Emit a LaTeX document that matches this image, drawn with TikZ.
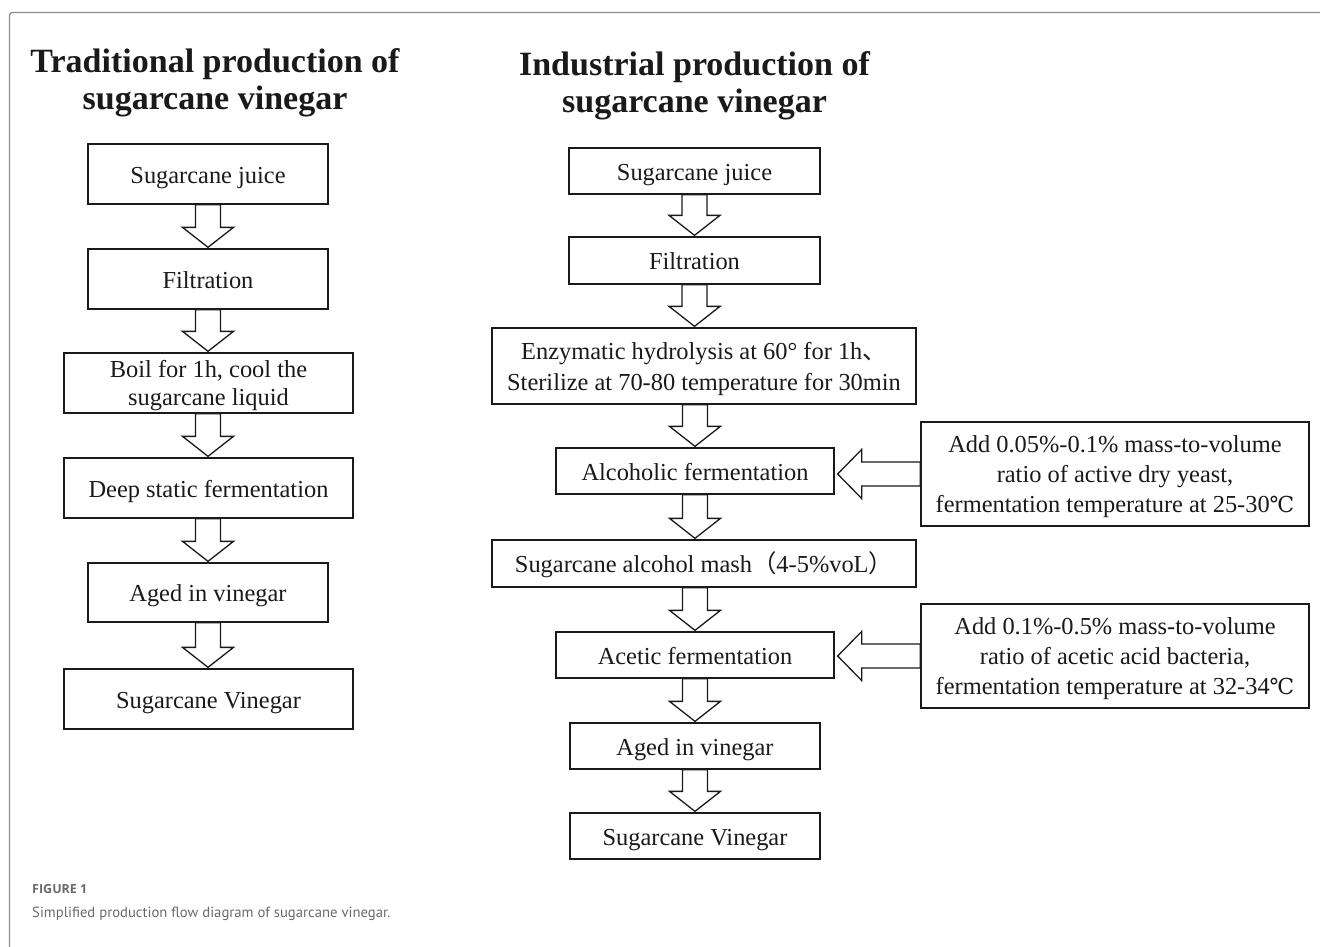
\documentclass[tikz,border=0pt]{standalone}
\usepackage{fontspec}
\setmainfont{Liberation Serif}
\newfontfamily\cjk{Noto Sans CJK SC}
\newfontfamily\degfont{DejaVu Serif}
\newfontfamily\capfont{Open Sans}
\newfontfamily\captextfont{PT Sans}
\usetikzlibrary{calc}
\definecolor{framegray}{HTML}{8C8C8C}
\definecolor{capgray}{HTML}{6A6A6A}
\definecolor{ink}{HTML}{1A1A1A}
\newcommand\flowarrow[3]{%
  \path let \p1=(#1.south), \p2=(#2.north), \p3=(#3.center) in
    [arrowshape] (\x3-12.5pt,\y1) -- (\x3+12.5pt,\y1) -- (\x3+12.5pt,\y2+21pt)
    -- (\x3+25.5pt,\y2+21pt) -- (\x3,\y2+1pt) -- (\x3-25.5pt,\y2+21pt)
    -- (\x3-12.5pt,\y2+21pt) -- cycle;}
\newcommand\sidearrow[2]{%
  \path let \p1=(#1.west), \p2=(#2.east) in
    [arrowshape] (\x1,\y1+12pt) -- (\x2+27pt,\y1+12pt) -- (\x2+27pt,\y1+24.5pt)
    -- (\x2+3pt,\y1) -- (\x2+27pt,\y1-24.5pt) -- (\x2+27pt,\y1-12pt)
    -- (\x1,\y1-12pt) -- cycle;}
\newcommand\topstrut[1]{\rule{0pt}{#1}}
\newcommand\degC{{\degfont\fontsize{22}{29.5}\selectfont ℃}}
\begin{document}
\begin{tikzpicture}[x=1pt,y=-1pt,
  box/.style={draw=ink, line width=1.3pt, fill=white, inner sep=0pt, align=center,
    text=ink, font=\fontsize{24.4}{29.5}\selectfont},
  onebox/.style={box, text height=18pt, text depth=0pt},
  arrowshape/.style={draw=ink, line width=1.3pt, fill=white, line join=miter},
  title/.style={align=center, inner sep=0pt, anchor=north, text=ink,
    font=\fontsize{34}{37.5}\selectfont\bfseries}]
\fill[white] (0,0) rectangle (1320,947);
\useasboundingbox (0,0) rectangle (1320,947);
\draw[framegray, line width=1.3pt, rounded corners=3pt] (9.5,960) -- (9.5,12.5) -- (1335,12.5);

% titles
\node[title] (t1) at (215,48) {Traditional production of\\sugarcane vinegar};
\node[title] (t2) at (694.5,51) {Industrial production of\\sugarcane vinegar};

% left column
\node[onebox, minimum width=240, minimum height=60] (lj) at (208,174) {Sugarcane juice};
\node[onebox, minimum width=240, minimum height=60] (lf) at (208,279) {Filtration};
\node[box, minimum width=289, minimum height=60, font=\fontsize{24.4}{28}\selectfont] (lb) at (208.5,383) {\topstrut{21.3pt}Boil for 1h, cool the\\sugarcane liquid};
\node[onebox, minimum width=289, minimum height=60] (ld) at (208.5,488) {Deep static fermentation};
\node[onebox, minimum width=240, minimum height=59] (la) at (208,592.5) {Aged in vinegar};
\node[onebox, minimum width=289, minimum height=60] (lv) at (208.5,699) {Sugarcane Vinegar};

\flowarrow{lj}{lf}{lf}
\flowarrow{lf}{lb}{lf}
\flowarrow{lb}{ld}{lf}
\flowarrow{ld}{la}{lf}
\flowarrow{la}{lv}{lf}

% right column
\node[onebox, minimum width=251, minimum height=46] (rj) at (694.5,171) {Sugarcane juice};
\node[onebox, minimum width=251, minimum height=47] (rf) at (694.5,260.5) {Filtration};
\node[box, minimum width=424, minimum height=76, font=\fontsize{24.4}{31.4}\selectfont] (re) at (704,366) {\topstrut{23.3pt}Enzymatic hydrolysis at 60° for 1h{\cjk 、}\\Sterilize at 70-80 temperature for 30min};
\node[onebox, minimum width=278, minimum height=46] (ra) at (695,471) {Alcoholic fermentation};
\node[onebox, minimum width=424, minimum height=47] (rm) at (704,563.5) {Sugarcane alcohol mash{\cjk （}4-5\%voL{\cjk ）}};
\node[onebox, minimum width=278, minimum height=46] (rc) at (695,655) {Acetic fermentation};
\node[onebox, minimum width=250, minimum height=46] (rg) at (695,746) {Aged in vinegar};
\node[onebox, minimum width=250, minimum height=46] (rv) at (695,836) {Sugarcane Vinegar};

\node[box, minimum width=388, minimum height=104, font=\fontsize{24.4}{30}\selectfont] (ry) at (1115,474) {\topstrut{22.8pt}Add 0.05\%-0.1\% mass-to-volume\\ratio of active dry yeast,\\fermentation temperature at 25-30\degC};
\node[box, minimum width=388, minimum height=104, font=\fontsize{24.4}{30}\selectfont] (rb) at (1115,656) {\topstrut{22.3pt}Add 0.1\%-0.5\% mass-to-volume\\ratio of acetic acid bacteria,\\fermentation temperature at 32-34\degC};

\flowarrow{rj}{rf}{rf}
\flowarrow{rf}{re}{rf}
\flowarrow{re}{ra}{ra}
\flowarrow{ra}{rm}{ra}
\flowarrow{rm}{rc}{rc}
\flowarrow{rc}{rg}{rc}
\flowarrow{rg}{rv}{rc}

\sidearrow{ry}{ra}
\sidearrow{rb}{rc}

% caption
\node[anchor=base west, inner sep=0pt, text=capgray, font=\capfont\fontsize{12.5}{14}\selectfont\bfseries] (fig) at (32,893) {FIGURE 1};
\node[anchor=base west, inner sep=0pt, text=capgray, font=\captextfont\fontsize{14.7}{18}\selectfont] (cap) at (32,917) {Simplified production flow diagram of sugarcane vinegar.};
\end{tikzpicture}
\end{document}
